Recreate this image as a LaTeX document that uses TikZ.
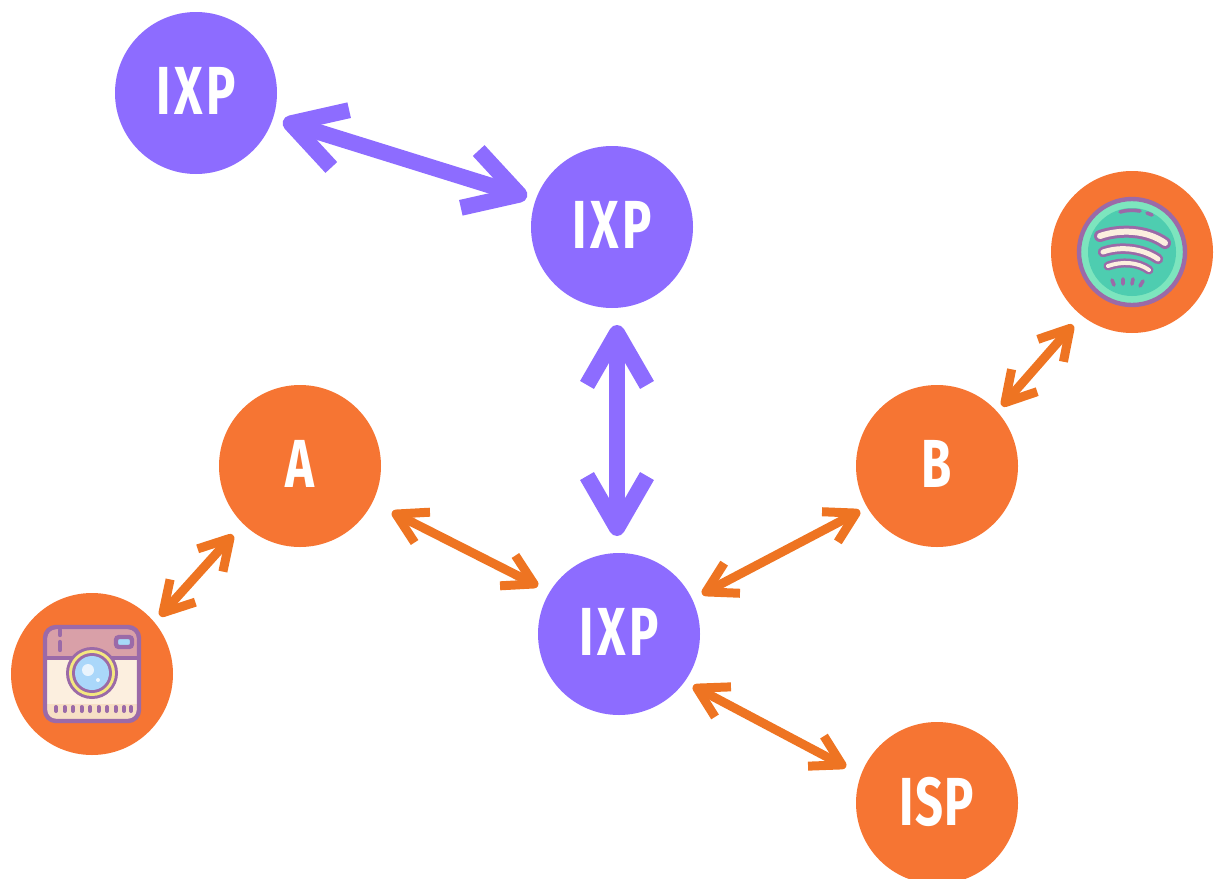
\documentclass[tikz,border=0pt]{standalone}
\usepackage{fontspec}
\setmainfont{Fira Sans}
\usetikzlibrary{calc}
\definecolor{hubviolet}{HTML}{8D6CFF}
\definecolor{huborange}{HTML}{F67533}
\definecolor{arrowo}{HTML}{EE7422}
\definecolor{iconp}{HTML}{9B6AA8}
\definecolor{cream}{HTML}{FCEFDF}
\definecolor{pinkband}{HTML}{D9A0A8}
\definecolor{sandband}{HTML}{F7DFC5}
\definecolor{skyb}{HTML}{A6D9F7}
\definecolor{lensb}{HTML}{AAD7FA}
\definecolor{yellowr}{HTML}{F4E880}
\definecolor{mintl}{HTML}{7DE5BE}
\definecolor{mintd}{HTML}{4ECDB0}
\tikzset{
 hub/.style={circle,fill=#1,minimum size=162pt,inner sep=0pt,text=white,font=\fontsize{68}{68}\selectfont\bfseries},
 bigarrow/.style={draw=hubviolet,line width=16pt,line join=round},
 smallarrow/.style={draw=arrowo,line width=9pt,line join=round},
 iconline/.style={draw=iconp,line width=4.4pt},
 thinline/.style={draw=iconp,line width=3.6pt,line cap=round},
}
\newcommand{\lab}[1]{\raisebox{4pt}{\scalebox{0.72}[1]{#1}}}
% style, from, to, inset of the round tip, arm length
\newcommand{\biarrow}[5]{%
 \coordinate (pa) at #2; \coordinate (pb) at #3;
 \coordinate (ta) at ($(pa)!#4!(pb)$); \coordinate (tb) at ($(pb)!#4!(pa)$);
 \draw[#1] (ta) -- (tb);
 \draw[#1] ($(ta)!#5!30:(tb)$) -- (ta) -- ($(ta)!#5!-30:(tb)$);
 \draw[#1] ($(tb)!#5!30:(ta)$) -- (tb) -- ($(tb)!#5!-30:(ta)$);
}
\begin{document}
\begin{tikzpicture}[x=1pt,y=-1pt]
\useasboundingbox (0,0) rectangle (1217,878);
\node[hub=hubviolet] (ixpa) at (196,93) {\lab{I\kern5pt X\kern5pt P}};
\node[hub=hubviolet] (ixpb) at (612,227) {\lab{I\kern5pt X\kern5pt P}};
\node[hub=hubviolet] (ixpc) at (619,634) {\lab{I\kern5pt X\kern5pt P}};
\node[hub=huborange] (a) at (300,466) {\lab{A}};
\node[hub=huborange] (b) at (937,466) {\lab{B}};
\node[hub=huborange] (isp) at (937,803) {\lab{I\kern2pt S\kern2pt P}};
\node[hub=huborange] (insta) at (92,674) {};
\node[hub=huborange] (spot) at (1132,252) {};
% connectors
\biarrow{bigarrow}{([shift={(87,28)}]ixpa.center)}{([shift={(-85,-30)}]ixpb.center)}{8pt}{60pt}
\biarrow{bigarrow}{([shift={(5,98)}]ixpb.center)}{([shift={(-2,-98)}]ixpc.center)}{8pt}{60pt}
\biarrow{smallarrow}{([shift={(92,46)}]a.center)}{([shift={(-81,-48)}]ixpc.center)}{4.5pt}{34pt}
\biarrow{smallarrow}{([shift={(83,-40)}]ixpc.center)}{([shift={(-77,45)}]b.center)}{4.5pt}{34pt}
\biarrow{smallarrow}{([shift={(74,52)}]ixpc.center)}{([shift={(-91,-36)}]isp.center)}{4.5pt}{34pt}
\biarrow{smallarrow}{([shift={(68,-58)}]insta.center)}{([shift={(-67,69)}]a.center)}{4.5pt}{34pt}
\biarrow{smallarrow}{([shift={(65,-60)}]b.center)}{([shift={(-59,73)}]spot.center)}{4.5pt}{34pt}
% instagram icon
\begin{scope}[shift={(insta.center)}]
 \fill[rounded corners=11pt,fill=cream] (-47,-47) rectangle (47,47);
 \begin{scope}
  \clip[rounded corners=11pt] (-47,-47) rectangle (47,47);
  \fill[pinkband] (-47,-47) rectangle (47,-16);
  \fill[sandband] (-47,30) rectangle (47,47);
 \end{scope}
 \draw[iconline] (-47,-16) -- (47,-16);
 \draw[iconline,rounded corners=11pt] (-47,-47) rectangle (47,47);
 \draw[iconline,line cap=round] (-32,-44) -- (-32,-39) (-32,-32) -- (-32,-24);
 \draw[iconline,rounded corners=3pt,fill=skyb] (24,-37) rectangle (40,-27);
 \fill[iconp] (0,-1) circle (26);
 \fill[yellowr] (0,-1) circle (23);
 \fill[iconp] (0,-1) circle (20);
 \fill[lensb] (0,-1) circle (17);
 \fill[white,opacity=.75] (-4,-4) circle (6);
 \fill[white,opacity=.8] (6,6) circle (2);
 \foreach \x in {-36,-27.5,-19,-10.5,-2,6.5,15,23.5,32,39}
  \draw[draw=iconp,line width=4pt,line cap=round] (\x,33) -- (\x,37);
\end{scope}
% spotify icon
\begin{scope}[shift={(spot.center)}]
 \fill[mintl] (0,0) circle (53);
 \draw[iconline] (0,0) circle (53);
 \fill[mintd] (0,0) circle (44);
 \draw[thinline] (-12,-40) .. controls (-6,-42) and (2,-42) .. (8,-41);
 \draw[thinline] (15,-39) -- (20,-37);
 \draw[draw=iconp,line width=12pt,line cap=round] (-32,-16) .. controls (-12,-23) and (15,-22) .. (33,-9);
 \draw[draw=cream,line width=6pt,line cap=round] (-32,-16) .. controls (-12,-23) and (15,-22) .. (33,-9);
 \draw[draw=iconp,line width=10.5pt,line cap=round] (-29,0) .. controls (-12,-6) and (10,-4) .. (26,7);
 \draw[draw=cream,line width=5pt,line cap=round] (-29,0) .. controls (-12,-6) and (10,-4) .. (26,7);
 \draw[draw=iconp,line width=9pt,line cap=round] (-24,14) .. controls (-10,9) and (6,10) .. (17,18);
 \draw[draw=cream,line width=4pt,line cap=round] (-24,14) .. controls (-10,9) and (6,10) .. (17,18);
 \draw[thinline] (-20,28) -- (-18,33) (-9,27) -- (-9,32) (1,27) -- (0,32) (11,29) -- (8,34);
\end{scope}
\end{tikzpicture}
\end{document}
